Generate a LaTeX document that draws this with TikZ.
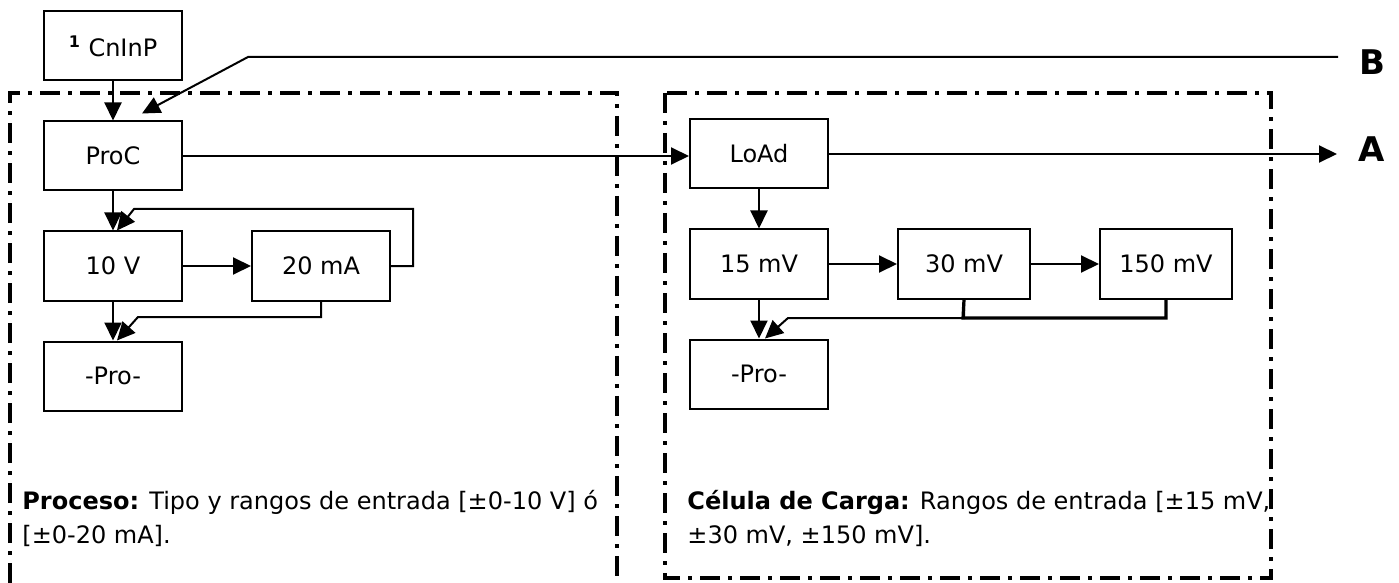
\documentclass[tikz,border=0pt]{standalone}
\usepackage{fontspec}
\setmainfont{DejaVu Sans}
\usetikzlibrary{positioning, arrows.meta, calc}

\begin{document}
\begin{tikzpicture}[
        x=0.5pt, y=-0.5pt,
        node distance=19.5pt and 34pt,
        font=\fontsize{12}{17}\selectfont,
        menu/.style={draw, line width=1pt, minimum width=69pt, minimum height=34.5pt, inner sep=0pt},
        menu_s/.style={menu, minimum width=66pt},
        flow/.style={line width=1pt, -{Triangle[length=9pt, width=8.5pt]}},
        link/.style={line width=1pt},
        group_frame/.style={line width=1.6pt, dash pattern=on 10pt off 4pt on 2pt off 4pt},
        note/.style={anchor=north west, align=left, inner sep=0pt}
    ]
    \useasboundingbox (0,0) rectangle (1399,583);

    % Marcos
    \draw[group_frame] (10,583) -- (10,93) -- (617,93) -- (617,583);
    \draw[group_frame] (665,93) rectangle (1271,578);

    % Proceso
    \node[menu] (cninp) at (113,46) {\textsuperscript{\textbf{1}} CnInP};
    \node[menu, below=of cninp] (proc) {ProC};
    \node[menu, below=of proc] (v10) {10 V};
    \node[menu, right=of v10] (ma20) {20 mA};
    \node[menu, below=of v10] (pro_l) {-Pro-};
    \node[note] (txt_proc) at (22,490) {\textbf{Proceso:} Tipo y rangos de entrada [±0-10 V] ó\\{}[±0-20 mA].};

    % Celula de carga
    \node[menu] (load) at (759,154) {LoAd};
    \node[menu, below=of load] (mv15) {15 mV};
    \node[menu_s, right=of mv15] (mv30) {30 mV};
    \node[menu_s, right=of mv30] (mv150) {150 mV};
    \node[menu, below=of mv15] (pro_r) {-Pro-};
    \node[note] (txt_load) at (687,490) {\textbf{Célula de Carga:} Rangos de entrada [±15 mV,\\±30 mV, ±150 mV].};

    % Salidas
    \node[font=\fontsize{17}{17}\selectfont\bfseries] (lbl_a) at (1372,149) {A};
    \node[font=\fontsize{17}{17}\selectfont\bfseries] (lbl_b) at (1372,62) {B};
    \coordinate (a_end) at (1337,154);
    \coordinate (b_end) at (1338,57);
    \coordinate (b_bend) at (248,57);

    \draw[flow] (cninp) -- (proc);
    \draw[flow] (b_end) -- (b_bend) -- ($(proc.north)+(29,-7)$);
    \draw[flow] (proc.east) -- (proc.east -| load.west);
    \draw[flow] (load.east) -- (load.east -| a_end);

    \draw[flow] (proc) -- (v10);
    \draw[flow] (v10) -- (ma20);
    \draw[flow] (ma20.east) -- ++(22,0) |- (134,209) -- ([xshift=2pt]v10.north);
    \draw[flow] (v10) -- (pro_l);
    \draw[flow] (ma20.south) |- (138,317) -- ([xshift=2pt]pro_l.north);

    \draw[flow] (load) -- (mv15);
    \draw[flow] (mv15) -- (mv30);
    \draw[flow] (mv30) -- (mv150);
    \draw[flow] (mv15) -- (pro_r);
    \draw[link, line width=1.6pt] (mv150.south) |- (963,318) -- (mv30.south);
    \draw[flow] (mv30.south) |- (788,318) -- ([xshift=3pt]pro_r.north);
\end{tikzpicture}
\end{document}
